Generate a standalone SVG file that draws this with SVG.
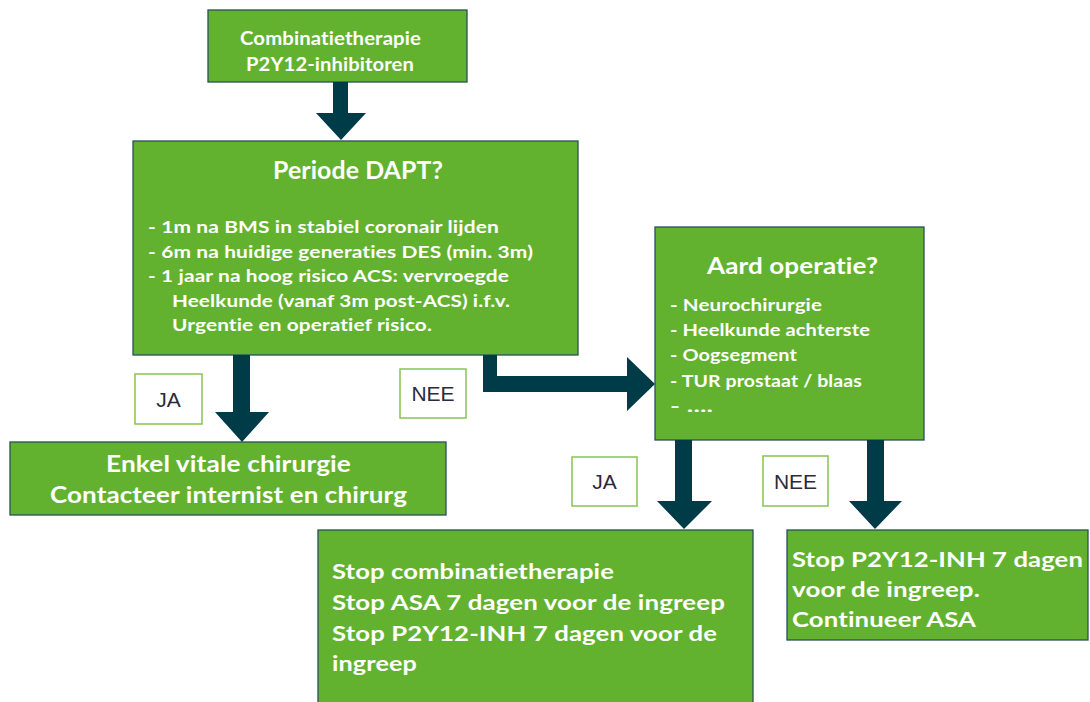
<svg xmlns="http://www.w3.org/2000/svg" width="1090" height="702" viewBox="0 0 1090 702">
<style>
.box{fill:#63b22f;stroke:#27505c;stroke-width:1.3}
.lbl{fill:#fff;stroke:#86c54f;stroke-width:1.5}
.t{font-family:Lato,"Open Sans","Liberation Sans",sans-serif;font-weight:bold;fill:#fff;font-variant-ligatures:none;font-feature-settings:"liga" 0,"dlig" 0,"clig" 0;letter-spacing:0.1px}
.lt{font-family:"Liberation Sans",Arial,sans-serif;font-size:21px;fill:#2b2b3a;text-anchor:middle}
.arr{fill:#003c48}
</style>
<rect width="1090" height="702" fill="#fff"/>
<g id="n1">
<rect class="box" x="208" y="10" width="259" height="72"/>
<text class="t" font-size="18" x="240" y="45" textLength="181" lengthAdjust="spacingAndGlyphs">Combinatietherapie</text>
<text class="t" font-size="18" x="246" y="71" textLength="168" lengthAdjust="spacingAndGlyphs">P2Y12-inhibitoren</text>
</g>
<g id="n2">
<rect class="box" x="133" y="141" width="445" height="214"/>
<text class="t" font-size="24" x="273" y="179" textLength="170" lengthAdjust="spacingAndGlyphs">Periode DAPT?</text>
<text class="t" font-size="17" x="148" y="233" textLength="351" lengthAdjust="spacingAndGlyphs">- 1m na BMS in stabiel coronair lijden</text>
<text class="t" font-size="17" x="148" y="257.5" textLength="385" lengthAdjust="spacingAndGlyphs">- 6m na huidige generaties DES (min. 3m)</text>
<text class="t" font-size="17" x="148" y="282" textLength="361" lengthAdjust="spacingAndGlyphs">- 1 jaar na hoog risico ACS: vervroegde</text>
<text class="t" font-size="17" x="172" y="307" textLength="338" lengthAdjust="spacingAndGlyphs">Heelkunde (vanaf 3m post-ACS) i.f.v.</text>
<text class="t" font-size="17" x="172" y="331" textLength="260" lengthAdjust="spacingAndGlyphs">Urgentie en operatief risico.</text>
</g>
<g id="n3">
<rect class="box" x="655" y="227" width="269" height="213"/>
<text class="t" font-size="22" x="707" y="274" textLength="171" lengthAdjust="spacingAndGlyphs">Aard operatie?</text>
<text class="t" font-size="17" x="670" y="311" textLength="152" lengthAdjust="spacingAndGlyphs">- Neurochirurgie</text>
<text class="t" font-size="17" x="670" y="336" textLength="200" lengthAdjust="spacingAndGlyphs">- Heelkunde achterste</text>
<text class="t" font-size="17" x="670" y="361" textLength="127" lengthAdjust="spacingAndGlyphs">- Oogsegment</text>
<text class="t" font-size="17" x="670" y="387" textLength="192" lengthAdjust="spacingAndGlyphs">- TUR prostaat / blaas</text>
<text class="t" font-size="17" x="670" y="412" textLength="43" lengthAdjust="spacingAndGlyphs">- ....</text>
</g>
<g id="n4">
<rect class="box" x="10" y="442" width="436" height="73"/>
<text class="t" font-size="22" x="106" y="472" textLength="245" lengthAdjust="spacingAndGlyphs">Enkel vitale chirurgie</text>
<text class="t" font-size="22" x="50" y="503" textLength="357" lengthAdjust="spacingAndGlyphs">Contacteer internist en chirurg</text>
</g>
<g id="n5">
<rect class="box" x="318" y="530" width="435" height="180"/>
<text class="t" font-size="21" x="332" y="579" textLength="282" lengthAdjust="spacingAndGlyphs">Stop combinatietherapie</text>
<text class="t" font-size="21" x="332" y="610" textLength="393" lengthAdjust="spacingAndGlyphs">Stop ASA 7 dagen voor de ingreep</text>
<text class="t" font-size="21" x="332" y="641" textLength="385" lengthAdjust="spacingAndGlyphs">Stop P2Y12-INH 7 dagen voor de</text>
<text class="t" font-size="21" x="332" y="671" textLength="85" lengthAdjust="spacingAndGlyphs">ingreep</text>
</g>
<g id="n6">
<rect class="box" x="787" y="530" width="301" height="110"/>
<text class="t" font-size="21" x="792" y="567" textLength="291" lengthAdjust="spacingAndGlyphs">Stop P2Y12-INH 7 dagen</text>
<text class="t" font-size="21" x="792" y="597" textLength="188" lengthAdjust="spacingAndGlyphs">voor de ingreep.</text>
<text class="t" font-size="21" x="792" y="627" textLength="184" lengthAdjust="spacingAndGlyphs">Continueer ASA</text>
</g>
<g id="connectors">
<polygon class="arr" points="333,82 348,82 348,113 366,113 341,140 316,113 333,113"/>
<polygon class="arr" points="233,355 250,355 250,412 269,412 242,442 215,412 233,412"/>
<polygon class="arr" points="483,355 497,355 497,376 627,376 627,357 655,384 627,411 627,392 483,392"/>
<polygon class="arr" points="675,440 692,440 692,501 712,501 684,529 657,501 675,501"/>
<polygon class="arr" points="867,440 884,440 884,501 902,501 875,529 849,501 867,501"/>
</g>
<g id="labels">
<rect class="lbl" x="135" y="374" width="67" height="50"/>
<text class="lt" x="168.5" y="406.5">JA</text>
<rect class="lbl" x="400" y="369" width="66" height="49"/>
<text class="lt" x="433" y="401">NEE</text>
<rect class="lbl" x="572" y="457" width="65" height="49"/>
<text class="lt" x="604.5" y="489">JA</text>
<rect class="lbl" x="763" y="456" width="65" height="50"/>
<text class="lt" x="795.5" y="489">NEE</text>
</g>
</svg>
